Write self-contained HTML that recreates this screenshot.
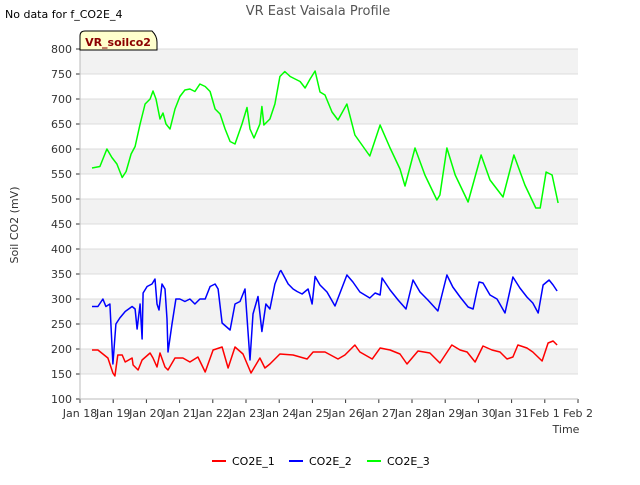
<!DOCTYPE html>
<html><head><meta charset="utf-8"><style>
body{margin:0;background:#fff;font-family:"Liberation Sans","DejaVu Sans",sans-serif;}
svg text{font-family:"DejaVu Sans","Liberation Sans",sans-serif;}
</style></head><body>
<svg id="chart" width="640" height="480" xmlns="http://www.w3.org/2000/svg">
<text x="318" y="15" text-anchor="middle" font-size="13" fill="#555">VR East Vaisala Profile</text>
<text x="5" y="18" font-size="11" fill="#000">No data for f_CO2E_4</text>
<g id="bands"></g><g id="grid"></g><g id="axes"></g><g id="series"></g>
<g>
<path d="M80,50 L80,36 Q80,31 85,31 L152,31 Q157,36 157,42 L157,50 Z" fill="#ffffcc" stroke="#000" stroke-width="1"/>
<text x="118" y="46" text-anchor="middle" font-size="11" font-weight="bold" fill="#8b0000">VR_soilco2</text>
</g>
<text transform="translate(18,225) rotate(-90)" text-anchor="middle" font-size="11" fill="#333">Soil CO2 (mV)</text>
<text x="566" y="433" text-anchor="middle" font-size="11" fill="#333">Time</text>
<g>
<g><line x1="212" y1="461" x2="226" y2="461" stroke="#f00" stroke-width="2"/><text x="232" y="465" font-size="11">CO2E_1</text></g>
<g><line x1="289" y1="461" x2="303" y2="461" stroke="#00f" stroke-width="2"/><text x="309" y="465" font-size="11">CO2E_2</text></g>
<g><line x1="367" y1="461" x2="381" y2="461" stroke="#0f0" stroke-width="2"/><text x="387" y="465" font-size="11">CO2E_3</text></g>
</g>
</svg>
<script>
const xTickLabels=["Jan 18","Jan 19","Jan 20","Jan 21","Jan 22","Jan 23","Jan 24","Jan 25","Jan 26","Jan 27","Jan 28","Jan 29","Jan 30","Jan 31","Feb 1","Feb 2"];
const yTicks=[100,150,200,250,300,350,400,450,500,550,600,650,700,750,800];
const t3=[0.36,0.60,0.81,0.96,1.11,1.27,1.39,1.54,1.66,1.81,1.96,2.11,2.20,2.29,2.41,2.50,2.59,2.71,2.86,3.01,3.16,3.31,3.46,3.61,3.77,3.92,4.07,4.22,4.37,4.52,4.67,4.88,5.03,5.12,5.24,5.42,5.48,5.54,5.72,5.87,6.02,6.17,6.33,6.48,6.63,6.78,6.93,7.08,7.23,7.38,7.59,7.77,8.04,8.28,8.73,9.04,9.34,9.64,9.79,10.09,10.39,10.75,10.84,11.05,11.30,11.69,12.08,12.35,12.74,13.07,13.40,13.73,13.86,14.04,14.22,14.40];
const v3=[562,565,600,583,570,543,555,590,605,650,690,700,716,700,660,672,650,640,680,705,718,720,715,730,725,715,680,670,640,615,610,650,683,640,622,650,685,648,660,690,745,755,745,740,735,722,740,756,714,708,674,658,690,628,586,648,602,560,526,602,548,498,508,602,548,494,588,538,504,588,528,482,482,554,548,492];
const t2=[0.36,0.54,0.69,0.78,0.90,0.99,1.08,1.20,1.36,1.57,1.66,1.72,1.81,1.87,1.90,2.02,2.17,2.26,2.32,2.38,2.47,2.56,2.62,2.65,2.77,2.89,3.01,3.16,3.31,3.46,3.61,3.77,3.92,4.07,4.16,4.28,4.52,4.67,4.82,4.97,5.12,5.21,5.36,5.48,5.60,5.72,5.87,6.02,6.05,6.27,6.42,6.54,6.69,6.87,6.99,7.08,7.23,7.44,7.68,8.04,8.22,8.43,8.73,8.89,9.04,9.10,9.34,9.58,9.82,10.03,10.24,10.48,10.78,11.05,11.23,11.45,11.69,11.84,11.96,12.02,12.14,12.35,12.56,12.80,13.04,13.25,13.46,13.64,13.80,13.95,14.13,14.25,14.37];
const v2=[285,285,300,285,290,170,250,262,275,285,280,240,290,220,312,325,330,340,290,278,330,320,260,194,250,300,300,295,300,290,300,300,325,330,320,252,238,290,295,320,178,270,305,235,290,280,330,355,357,330,320,315,310,320,290,345,328,314,286,348,334,314,302,312,308,342,318,298,280,338,314,298,276,348,324,304,284,280,318,334,332,308,300,272,344,322,304,292,272,328,338,328,316];
const t1=[0.36,0.54,0.69,0.84,0.99,1.05,1.14,1.27,1.36,1.57,1.60,1.75,1.87,2.11,2.20,2.32,2.41,2.56,2.65,2.86,3.10,3.31,3.55,3.77,4.01,4.28,4.46,4.67,4.91,5.15,5.42,5.57,5.72,6.02,6.42,6.84,7.02,7.38,7.77,7.98,8.28,8.43,8.80,9.04,9.34,9.64,9.85,10.18,10.54,10.84,11.20,11.45,11.66,11.90,12.14,12.41,12.65,12.86,13.04,13.19,13.46,13.64,13.92,14.10,14.25,14.37];
const v1=[198,198,190,182,152,146,188,188,174,182,168,158,178,192,182,164,192,164,158,182,182,174,184,154,198,204,162,204,190,152,182,162,170,190,188,180,194,194,180,188,208,194,180,202,198,190,170,196,192,172,208,198,194,174,206,198,194,180,184,208,202,194,176,212,216,208];
const NS="http://www.w3.org/2000/svg";
const L=80,R=578,T=49,B=399;
const xs=d=>L+d*(R-L)/15;
const ys=v=>B-(v-100)*(B-T)/700;
function mk(tag,attrs,parent){const e=document.createElementNS(NS,tag);for(const k in attrs)e.setAttribute(k,attrs[k]);parent.appendChild(e);return e;}
const bands=document.getElementById('bands'),grid=document.getElementById('grid'),axes=document.getElementById('axes'),ser=document.getElementById('series');
for(let v=150;v<800;v+=100){const r=mk('rect',{x:L,y:ys(v+50),width:R-L,height:ys(v)-ys(v+50),fill:'#f2f2f2'},bands);

}
yTicks.forEach(v=>{const l=mk('line',{x1:L,x2:R,y1:ys(v),y2:ys(v),stroke:'#dcdcdc','stroke-width':1},grid);


const tk=mk('line',{x1:L-4,x2:L,y1:ys(v),y2:ys(v),stroke:'#333'},axes);


const t=mk('text',{x:L-8,y:ys(v)+4,'text-anchor':'end','font-size':11,fill:'#333'},axes);t.textContent=v;

});
xTickLabels.forEach((s,i)=>{const x=xs(i);
const tk=mk('line',{x1:x,x2:x,y1:B,y2:B+4,stroke:'#333'},axes);


const t=mk('text',{x:x,y:B+18,'text-anchor':'middle','font-size':11,fill:'#333'},axes);t.textContent=s;

});
const ax=mk('path',{d:`M${L},${T} L${L},${B} L${R},${B}`,fill:'none',stroke:'#bbb'},axes);


function line(t,v,col,name){const d=t.map((d,i)=>(i?'L':'M')+xs(d).toFixed(1)+','+ys(v[i]).toFixed(1)).join(' ');
const p=mk('path',{d:d,fill:'none',stroke:col,'stroke-width':1.5,'stroke-linejoin':'round'},ser);

}
line(t1,v1,'#ff0000','co2e-1-line');
line(t2,v2,'#0000ff','co2e-2-line');
line(t3,v3,'#00ff00','co2e-3-line');
</script>
</body></html>
